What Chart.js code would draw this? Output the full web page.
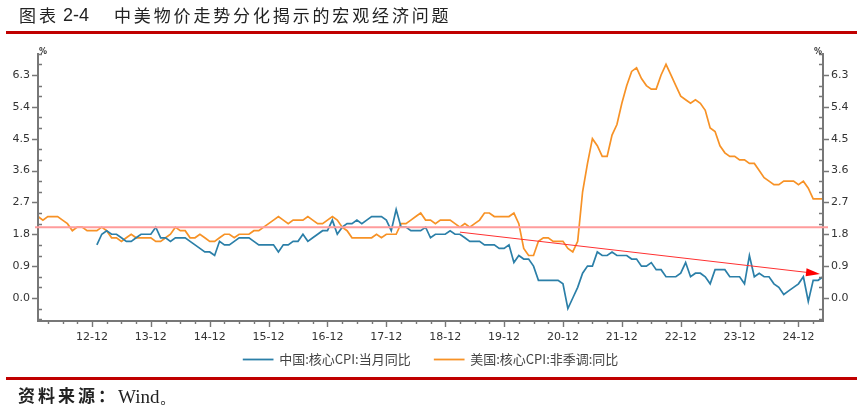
<!DOCTYPE html>
<html>
<head>
<meta charset="utf-8">
<script src="https://cdn.jsdelivr.net/npm/chart.js@4"></script>
<style>
  html, body { margin: 0; padding: 0; background: #fff; }
  #page { position: relative; width: 862px; height: 410px; overflow: hidden; }
  #my-chart { position: absolute; left: 0; top: 0; }
  .rule { position: absolute; left: 6px; width: 851px; height: 3px; background: #c00000; }
  .txt { position: absolute; white-space: nowrap; color: #222; font-family: "Noto Sans CJK SC"; }
</style>
</head>
<body>
<div id="page">
  <canvas id="my-chart" width="862" height="410"></canvas>
  <div class="txt" style="left:19px;top:2px;font-size:17px;letter-spacing:3px;">图表</div>
  <div class="txt" style="left:63px;top:5px;font-size:18px;font-family:'Liberation Sans';">2-4</div>
  <div class="txt" style="left:114px;top:2px;font-size:17px;letter-spacing:2.85px;">中美物价走势分化揭示的宏观经济问题</div>
  <div class="rule" style="top:31px"></div>
  <div class="rule" style="top:377px"></div>
  <div class="txt" style="left:18px;top:382px;font-size:17px;letter-spacing:3px;font-weight:700;">资料来源：</div>
  <div class="txt" style="left:118px;top:384px;font-size:19px;font-family:'Liberation Serif';">Wind。</div>
</div>
<script>
// months from 2012-01 to 2025-05
const years = [12, 13, 14, 15, 16, 17, 18, 19, 20, 21, 22, 23, 24, 25]
const months = []
years.forEach(y => {
    for (let m = 1; m <= 12; m++) {
        if (y === 25 && m > 5) break
        months.push(y + '-' + String(m).padStart(2, '0'))
    }
})

const usCore = [
    2.3, 2.2, 2.3, 2.3, 2.3, 2.2, 2.1, 1.9, 2.0, 2.0, 1.9, 1.9,
    1.9, 2.0, 1.9, 1.7, 1.7, 1.6, 1.7, 1.8, 1.7, 1.7, 1.7, 1.7,
    1.6, 1.6, 1.7, 1.8, 2.0, 1.9, 1.9, 1.7, 1.7, 1.8, 1.7, 1.6,
    1.6, 1.7, 1.8, 1.8, 1.7, 1.8, 1.8, 1.8, 1.9, 1.9, 2.0, 2.1,
    2.2, 2.3, 2.2, 2.1, 2.2, 2.2, 2.2, 2.3, 2.2, 2.1, 2.1, 2.2,
    2.3, 2.2, 2.0, 1.9, 1.7, 1.7, 1.7, 1.7, 1.7, 1.8, 1.7, 1.8,
    1.8, 1.8, 2.1, 2.1, 2.2, 2.3, 2.4, 2.2, 2.2, 2.1, 2.2, 2.2,
    2.2, 2.1, 2.0, 2.1, 2.0, 2.1, 2.2, 2.4, 2.4, 2.3, 2.3, 2.3,
    2.3, 2.4, 2.1, 1.4, 1.2, 1.2, 1.6, 1.7, 1.7, 1.6, 1.6, 1.6,
    1.4, 1.3, 1.6, 3.0, 3.8, 4.5, 4.3, 4.0, 4.0, 4.6, 4.9, 5.5,
    6.0, 6.4, 6.5, 6.2, 6.0, 5.9, 5.9, 6.3, 6.6, 6.3, 6.0, 5.7,
    5.6, 5.5, 5.6, 5.5, 5.3, 4.8, 4.7, 4.3, 4.1, 4.0, 4.0, 3.9,
    3.9, 3.8, 3.8, 3.6, 3.4, 3.3, 3.2, 3.2, 3.3, 3.3, 3.3, 3.2,
    3.3, 3.1, 2.8, 2.8, 2.8
]

const cnCore = [
    null, null, null, null, null, null, null, null, null, null, null, null,
    1.5, 1.8, 1.9, 1.8, 1.8, 1.7, 1.6, 1.6, 1.7, 1.8, 1.8, 1.8,
    2.0, 1.7, 1.7, 1.6, 1.7, 1.7, 1.7, 1.6, 1.5, 1.4, 1.3, 1.3,
    1.2, 1.6, 1.5, 1.5, 1.6, 1.7, 1.7, 1.7, 1.6, 1.5, 1.5, 1.5,
    1.5, 1.3, 1.5, 1.5, 1.6, 1.6, 1.8, 1.6, 1.7, 1.8, 1.9, 1.9,
    2.2, 1.8, 2.0, 2.1, 2.1, 2.2, 2.1, 2.2, 2.3, 2.3, 2.3, 2.2,
    1.9, 2.5, 2.0, 2.0, 1.9, 1.9, 1.9, 2.0, 1.7, 1.8, 1.8, 1.8,
    1.9, 1.8, 1.8, 1.7, 1.6, 1.6, 1.6, 1.5, 1.5, 1.5, 1.4, 1.4,
    1.5, 1.0, 1.2, 1.1, 1.1, 0.9, 0.5, 0.5, 0.5, 0.5, 0.5, 0.4,
    -0.3, 0.0, 0.3, 0.7, 0.9, 0.9, 1.3, 1.2, 1.2, 1.3, 1.2, 1.2,
    1.2, 1.1, 1.1, 0.9, 0.9, 1.0, 0.8, 0.8, 0.6, 0.6, 0.6, 0.7,
    1.0, 0.6, 0.7, 0.7, 0.6, 0.4, 0.8, 0.8, 0.8, 0.6, 0.6, 0.6,
    0.4, 1.2, 0.6, 0.7, 0.6, 0.6, 0.4, 0.3, 0.1, 0.2, 0.3, 0.4,
    0.6, -0.1, 0.5, 0.5, 0.6
]

const yMajor = [0.0, 0.9, 1.8, 2.7, 3.6, 4.5, 5.4, 6.3]
const yAll = [-0.6, -0.3, 0.0, 0.3, 0.6, 0.9, 1.2, 1.5, 1.8, 2.1, 2.4, 2.7, 3.0, 3.3, 3.6, 3.9, 4.2, 4.5, 4.8, 5.1, 5.4, 5.7, 6.0, 6.3, 6.6, 6.9]

// hand drawn overlays in the original
const refLevel = 2.0
const trendFrom = ['19-03', 1.86]
const trendTo = ['25-05', 0.68]

const axisColor = '#777'
const textColor = '#333'

// axis lines, ticks, % marks, red level line and arrow
const overlay = {
    id: 'overlay',
    // the legend sits close under the tick labels
    afterLayout(chart) {
        chart.legend.top = chart.scales.x.bottom - 19
    },
    afterDatasetsDraw(chart) {
        const { ctx, chartArea: a, scales } = chart
        const x = scales.x, y = scales.y
        ctx.save()
        ctx.strokeStyle = axisColor
        ctx.lineWidth = 1.4
        ctx.beginPath()
        yAll.forEach(v => {
            const py = Math.round(y.getPixelForValue(v)) + 0.5
            const major = yMajor.includes(v)
            ctx.moveTo(a.left - (major ? 6 : 0), py); ctx.lineTo(a.left + (major ? 0 : 4), py)
            ctx.moveTo(a.right + (major ? 6 : 0), py); ctx.lineTo(a.right - (major ? 0 : 4), py)
        })
        months.forEach((m, i) => {
            const mm = +m.slice(3)
            if (mm % 3) return
            const px = Math.round(x.getPixelForValue(i)) + 0.5
            ctx.moveTo(px, a.bottom); ctx.lineTo(px, a.bottom + (mm === 12 ? 6 : 3))
        })
        ctx.stroke()

        ctx.lineWidth = 2
        ctx.beginPath()
        ctx.moveTo(a.left, a.top); ctx.lineTo(a.left, a.bottom); ctx.lineTo(a.right, a.bottom); ctx.lineTo(a.right, a.top)
        ctx.stroke()

        ctx.fillStyle = textColor
        ctx.font = 'bold 8px "DejaVu Sans"'
        ctx.textBaseline = 'middle'
        ctx.textAlign = 'left'
        ctx.fillText('%', a.left + 1, a.top - 1)
        ctx.textAlign = 'right'
        ctx.fillText('%', a.right - 1, a.top - 1)

        // level line
        const ly = y.getPixelForValue(refLevel)
        ctx.strokeStyle = '#ff9c9c'
        ctx.lineWidth = 2
        ctx.beginPath()
        ctx.moveTo(a.left - 3, ly); ctx.lineTo(a.right + 5, ly)
        ctx.stroke()

        // trend arrow
        const x0 = x.getPixelForValue(months.indexOf(trendFrom[0])), y0 = y.getPixelForValue(trendFrom[1])
        const x1 = x.getPixelForValue(months.indexOf(trendTo[0])) - 3, y1 = y.getPixelForValue(trendTo[1])
        const ang = Math.atan2(y1 - y0, x1 - x0)
        ctx.strokeStyle = '#ff3030'
        ctx.lineWidth = 1
        ctx.beginPath()
        ctx.moveTo(x0, y0); ctx.lineTo(x1 - 8, y1 - 8 * Math.tan(ang))
        ctx.stroke()
        ctx.fillStyle = '#ff0000'
        ctx.translate(x1, y1)
        ctx.rotate(ang)
        ctx.beginPath()
        ctx.moveTo(0, 0); ctx.lineTo(-14, -4); ctx.lineTo(-14, 4)
        ctx.closePath()
        ctx.fill()
        ctx.restore()
    }
}

const yAxis = (position) => ({
    position,
    min: -0.65,
    max: 6.92,
    border: { display: false },
    grid: { display: false, drawTicks: false },
    afterBuildTicks: s => { s.ticks = yMajor.map(v => ({ value: v })) },
    afterFit: s => { s.width = position === 'left' ? 38 : 39 },
    ticks: {
        padding: 8,
        color: textColor,
        font: { family: 'DejaVu Sans', size: 11 },
        callback: v => v.toFixed(1)
    }
})

new Chart(document.getElementById('my-chart'), {
    type: 'line',
    plugins: [overlay],
    data: {
        labels: months,
        datasets: [
            { label: '中国:核心CPI:当月同比', data: cnCore, borderColor: '#2b7fa8', backgroundColor: '#2b7fa8', borderWidth: 1.7, yAxisID: 'y' },
            { label: '美国:核心CPI:非季调:同比', data: usCore, borderColor: '#f79226', backgroundColor: '#f79226', borderWidth: 1.7, yAxisID: 'y' }
        ]
    },
    options: {
        responsive: false,
        animation: false,
        elements: { point: { radius: 0 }, line: { tension: 0 } },
        layout: { padding: { top: 53, bottom: 15, left: 0, right: 0 } },
        scales: {
            x: {
                border: { display: false },
                grid: { display: false, drawTicks: false },
                afterFit: s => { s.height = 27 },
                ticks: {
                    autoSkip: false,
                    maxRotation: 0,
                    padding: 10,
                    color: textColor,
                    font: { family: 'DejaVu Sans', size: 11 },
                    callback: function (v) {
                        const m = months[v]
                        return m.endsWith('-12') ? m : null
                    }
                }
            },
            y: yAxis('left'),
            y2: yAxis('right')
        },
        plugins: {
            tooltip: { enabled: false },
            legend: {
                position: 'bottom',
                labels: {
                    boxWidth: 29,
                    boxHeight: 0.1,
                    padding: 24,
                    color: '#444',
                    font: { family: 'Noto Sans CJK SC', size: 13 }
                }
            }
        }
    }
})
</script>
</body>
</html>
